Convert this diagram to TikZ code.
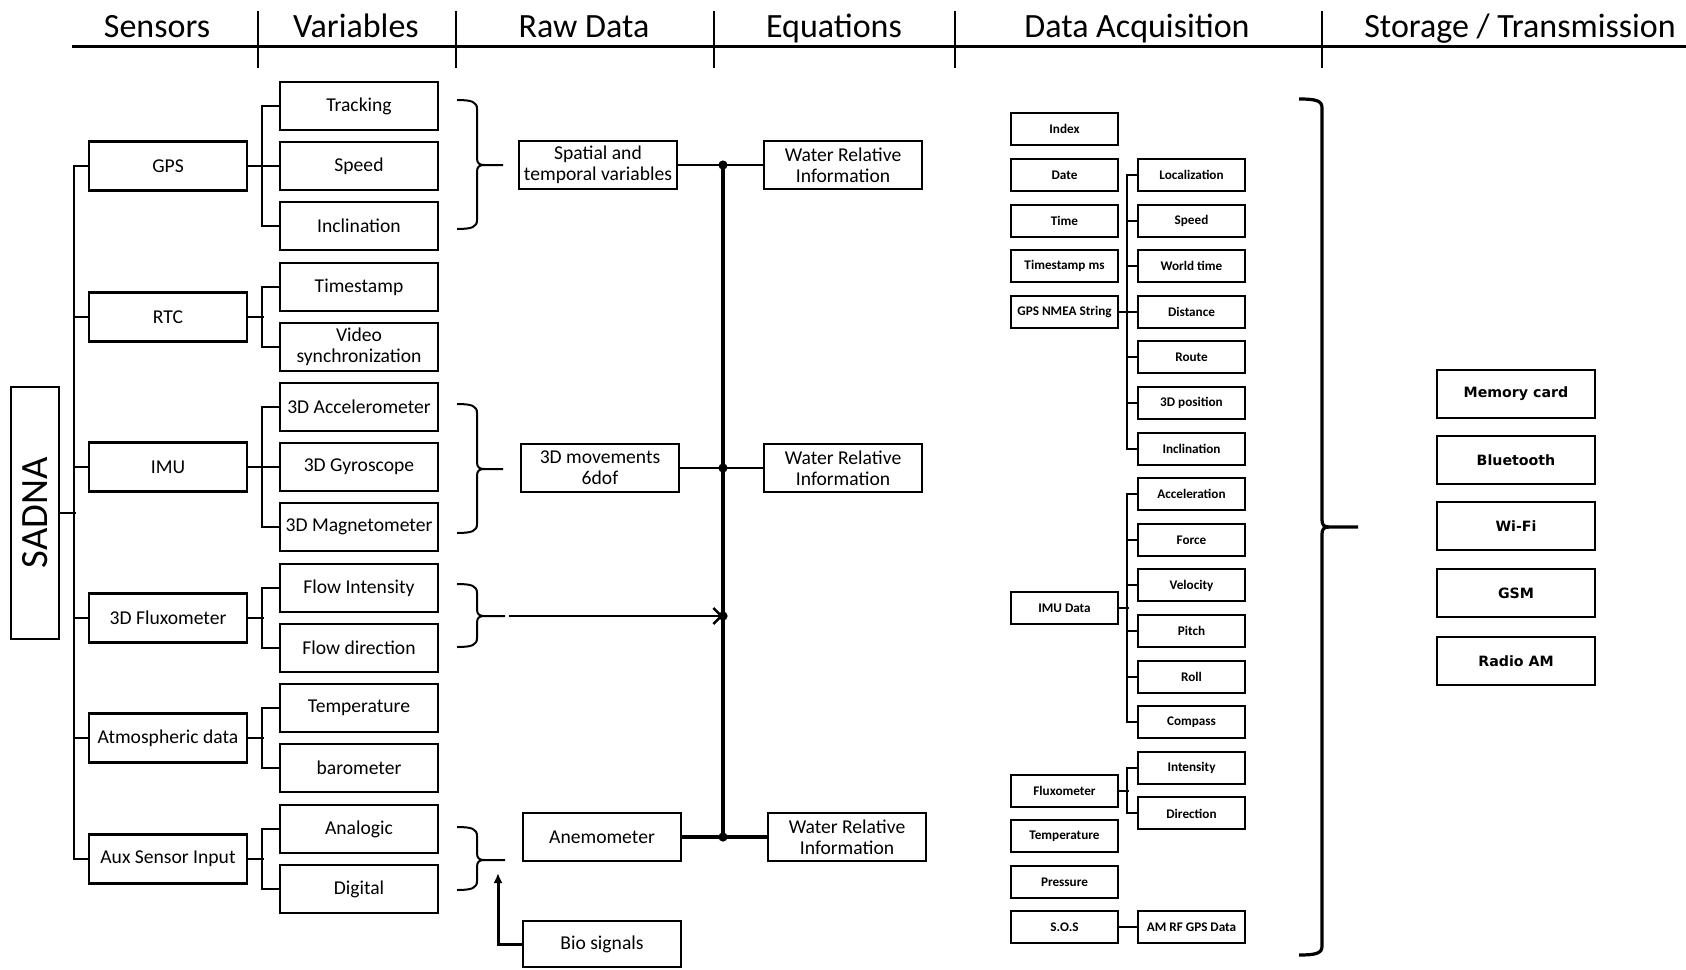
\documentclass[tikz,border=0pt]{standalone}
\usepackage{fontspec}
\setmainfont{Carlito}
\newfontfamily\stfont{DejaVu Sans}
\usetikzlibrary{arrows.meta}
\newcommand{\mybrace}[7][]{%
  \draw[line join=round,#1] (#2,#4) .. controls ({#3-5},#4) and (#3,{#4+2}) .. (#3,{#4+9})
    -- (#3,{#5-7}) .. controls (#3,{#5-2}) and ({#3+2},#5) .. ({#3+7},#5) -- (#7,#5);
  \draw[line join=round,#1] ({#3+7},#5) .. controls ({#3+2},#5) and (#3,{#5+2}) .. (#3,{#5+7})
    -- (#3,{#6-9}) .. controls (#3,{#6-2}) and ({#3-5},#6) .. (#2,#6);
}
\begin{document}
\begin{tikzpicture}[x=0.5pt,y=-0.5pt,
  bx/.style={draw, line width=1.1pt, inner sep=1pt, align=center,
    font=\fontsize{9.8}{10.4}\selectfont},
  vb/.style={bx, minimum width=79pt, minimum height=24pt},
  sb/.style={bx, minimum width=79pt, minimum height=24.5pt},
  db/.style={draw, line width=1pt, inner sep=1pt, align=center,
    minimum width=53.5pt, minimum height=16pt,
    font=\bfseries\fontsize{6.6}{7}\selectfont},
  stb/.style={draw, line width=1.1pt, inner sep=1pt, align=center,
    minimum width=79pt, minimum height=24pt,
    font=\stfont\bfseries\fontsize{7.1}{8.5}\selectfont},
  hd/.style={anchor=base, font=\fontsize{17}{20}\selectfont},
  cn/.style={line width=1pt},
]
\useasboundingbox (0,0) rectangle (1686,969);

% header
\draw[line width=1.5pt] (72,46) -- (1686,46);
\foreach \x in {258,456,714,955,1322} \draw[line width=1.2pt] (\x,11) -- (\x,68);
\node[hd] (h1) at (157,38) {Sensors};
\node[hd] (h2) at (356,38) {Variables};
\node[hd] (h3) at (584,38) {Raw Data};
\node[hd] (h4) at (834,38) {Equations};
\node[hd] (h5) at (1137,38) {Data Acquisition};
\node[hd] (h6) at (1520,38) {Storage / Transmission};

% SADNA
\node[draw, line width=1.1pt, minimum width=24pt, minimum height=126pt, inner sep=0pt]
  (sadna) at (35,513) {\rotatebox{90}{\fontsize{19.3}{20}\selectfont SADNA}};

% sensors
\node[sb] (gps) at (168,166) {GPS};
\node[sb] (rtc) at (168,317) {RTC};
\node[sb] (imu) at (168,467) {IMU};
\node[sb] (flux) at (168,618) {3D Fluxometer};
\node[sb] (atm) at (168,738) {Atmospheric data};
\node[sb] (aux) at (168,859) {Aux Sensor Input};

% variables
\node[vb] (trk) at (359,106) {Tracking};
\node[vb] (spd) at (359,166) {Speed};
\node[vb] (incl) at (359,226) {Inclination};
\node[vb] (tstamp) at (359,287) {Timestamp};
\node[vb] (vid) at (359,347) {Video\\synchronization};
\node[vb] (acc) at (359,407) {3D Accelerometer};
\node[vb] (gyr) at (359,467) {3D Gyroscope};
\node[vb] (mag) at (359,527) {3D Magnetometer};
\node[vb] (fint) at (359,588) {Flow Intensity};
\node[vb] (fdir) at (359,648) {Flow direction};
\node[vb] (temp) at (359,708) {Temperature};
\node[vb] (baro) at (359,768) {barometer};
\node[vb] (ana) at (359,829) {Analogic};
\node[vb] (dig) at (359,889) {Digital};

% raw data
\node[vb] (spatial) at (598,165) {Spatial and\\temporal variables};
\node[vb] (mov) at (600,468) {3D movements\\6dof};
\node[vb] (anem) at (602,837) {Anemometer};
\node[vb, minimum height=23pt] (bio) at (602,944) {Bio signals};

% equations
\node[vb] (wri1) at (843,165) {Water Relative\\Information};
\node[vb] (wri2) at (843,468) {Water Relative\\Information};
\node[vb] (wri3) at (847,837) {Water Relative\\Information};

% data acquisition
\node[db] (index) at (1064.5,129.4) {Index};
\node[db] (date) at (1064.5,175) {Date};
\node[db] (time) at (1064.5,220.6) {Time};
\node[db] (tsms) at (1064.5,266.2) {Timestamp ms};
\node[db] (gpsn) at (1064.5,311.8) {GPS NMEA String};
\node[db] (imud) at (1064.5,608.2) {IMU Data};
\node[db] (fluxd) at (1064.5,790.6) {Fluxometer};
\node[db] (tempd) at (1064.5,836.2) {Temperature};
\node[db] (pres) at (1064.5,881.8) {Pressure};
\node[db] (sos) at (1064.5,927.4) {S.O.S};

\node[db] (loc) at (1191.5,175) {Localization};
\node[db] (spd2) at (1191.5,220.6) {Speed};
\node[db] (wt) at (1191.5,266.2) {World time};
\node[db] (dist) at (1191.5,311.8) {Distance};
\node[db] (route) at (1191.5,357.4) {Route};
\node[db] (pos3) at (1191.5,403) {3D position};
\node[db] (incl2) at (1191.5,448.6) {Inclination};
\node[db] (accel) at (1191.5,494.2) {Acceleration};
\node[db] (force) at (1191.5,539.8) {Force};
\node[db] (vel) at (1191.5,585.4) {Velocity};
\node[db] (pitch) at (1191.5,631) {Pitch};
\node[db] (roll) at (1191.5,676.6) {Roll};
\node[db] (comp) at (1191.5,722.2) {Compass};
\node[db] (inten) at (1191.5,767.8) {Intensity};
\node[db] (dir) at (1191.5,813.4) {Direction};
\node[db] (amrf) at (1191.5,927.4) {AM RF GPS Data};

% storage
\node[stb] (mem) at (1516,394) {Memory card};
\node[stb] (bt) at (1516,460) {Bluetooth};
\node[stb] (wifi) at (1516,526) {Wi-Fi};
\node[stb] (gsm) at (1516,593) {GSM};
\node[stb] (radio) at (1516,661) {Radio AM};

% sensor tree
\draw[cn] (gps.west) -- ++(-14,0) |- (aux.west);
\foreach \n in {rtc,imu,flux,atm} \draw[cn] (\n.west) -- ++(-14,0);
\draw[cn] (sadna.east) -- ++(16,0);

% variable brackets
\draw[cn] (trk.west) -- ++(-17,0) |- (incl.west);
\draw[cn] (gps.east) -- (spd.west);
\draw[cn] (tstamp.west) -- ++(-17,0) |- (vid.west);
\draw[cn] (rtc.east) -- ++(16,0);
\draw[cn] (acc.west) -- ++(-17,0) |- (mag.west);
\draw[cn] (imu.east) -- (gyr.west);
\draw[cn] (fint.west) -- ++(-17,0) |- (fdir.west);
\draw[cn] (flux.east) -- ++(16,0);
\draw[cn] (temp.west) -- ++(-17,0) |- (baro.west);
\draw[cn] (atm.east) -- ++(16,0);
\draw[cn] (ana.west) -- ++(-17,0) |- (dig.west);
\draw[cn] (aux.east) -- ++(16,0);

% braces
\mybrace[line width=1pt]{457}{477}{100}{165}{229}{503}
\mybrace[line width=1pt]{457}{477}{404}{469}{533}{503}
\mybrace[line width=1pt]{457}{477}{584}{616}{647}{505}
\mybrace[line width=1pt]{457}{477}{827}{860}{890}{505}
\mybrace[line width=1.6pt]{1299}{1322}{99}{527}{955}{1358}

% equations trunk
\coordinate (j1) at (723,165);
\coordinate (j2) at (723,468);
\coordinate (j3) at (723,616);
\coordinate (j4) at (723,837);
\draw[line width=1.7pt] (j1) -- (j4);
\draw[cn] (spatial.east) -- (wri1.west);
\draw[cn] (mov.east) -- (wri2.west);
\draw[line width=2pt] (anem.east) -- (wri3.west);
\foreach \j in {j1,j2,j3,j4} \fill (\j) circle (2.3pt);
\coordinate (fa) at (509,616);
\draw[line width=1.2pt, -{Straight Barb[length=4pt,width=8pt]}] (fa) -- (j3);
\coordinate (ba) at (498,873);
\draw[line width=1.5pt, -{Latex[length=5pt,width=4.5pt]}] (bio.west) -| (ba);

% data acquisition trees
\draw[cn] (loc.west) -- ++(-10,0) |- (incl2.west);
\foreach \n in {spd2,wt,route,pos3} \draw[cn] (\n.west) -- ++(-10,0);
\draw[line width=1.3pt] (gpsn.east) -- (dist.west);
\draw[cn] (accel.west) -- ++(-10,0) |- (comp.west);
\foreach \n in {force,vel,pitch,roll} \draw[cn] (\n.west) -- ++(-10,0);
\draw[cn] (imud.east) -- ++(10,0);
\draw[cn] (inten.west) -- ++(-10,0) |- (dir.west);
\draw[cn] (fluxd.east) -- ++(10,0);
\draw[cn] (sos.east) -- (amrf.west);
\end{tikzpicture}
\end{document}
